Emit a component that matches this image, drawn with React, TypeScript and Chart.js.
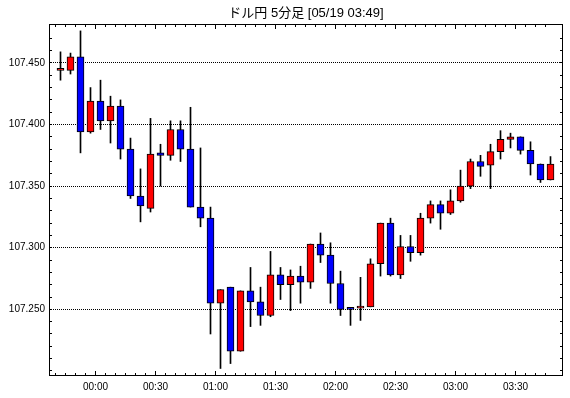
import React, { useEffect, useRef } from "react";
import { Chart, registerables } from "chart.js";

Chart.register(...registerables);

const TITLE = "ドル円 5分足 [05/19 03:49]";

// 5-minute candle start times
const TIMES = [
  "23:40", "23:45", "23:50", "23:55", "00:00", "00:05", "00:10", "00:15", "00:20", "00:25",
  "00:30", "00:35", "00:40", "00:45", "00:50", "00:55", "01:00", "01:05", "01:10", "01:15",
  "01:20", "01:25", "01:30", "01:35", "01:40", "01:45", "01:50", "01:55", "02:00", "02:05",
  "02:10", "02:15", "02:20", "02:25", "02:30", "02:35", "02:40", "02:45", "02:50", "02:55",
  "03:00", "03:05", "03:10", "03:15", "03:20", "03:25", "03:30", "03:35", "03:40", "03:45",
];

const OPEN = [
  107.444, 107.444, 107.455, 107.394, 107.419, 107.403, 107.415, 107.380, 107.342, 107.332,
  107.377, 107.375, 107.396, 107.380, 107.333, 107.324, 107.255, 107.268, 107.216, 107.265,
  107.256, 107.245, 107.278, 107.270, 107.277, 107.272, 107.303, 107.294, 107.271, 107.251,
  107.251, 107.252, 107.287, 107.320, 107.278, 107.301, 107.296, 107.324, 107.335, 107.328,
  107.338, 107.350, 107.370, 107.367, 107.378, 107.388, 107.390, 107.379, 107.368, 107.355,
];
const HIGH = [
  107.459, 107.458, 107.476, 107.430, 107.436, 107.423, 107.420, 107.389, 107.364, 107.405,
  107.384, 107.403, 107.403, 107.414, 107.381, 107.333, 107.266, 107.268, 107.265, 107.284,
  107.268, 107.297, 107.284, 107.282, 107.285, 107.303, 107.312, 107.304, 107.281, 107.251,
  107.276, 107.291, 107.320, 107.324, 107.310, 107.310, 107.328, 107.338, 107.338, 107.347,
  107.363, 107.372, 107.375, 107.384, 107.395, 107.393, 107.390, 107.386, 107.368, 107.374,
];
const LOW = [
  107.436, 107.441, 107.377, 107.393, 107.396, 107.385, 107.372, 107.340, 107.321, 107.329,
  107.350, 107.371, 107.370, 107.333, 107.317, 107.230, 107.202, 107.206, 107.216, 107.236,
  107.237, 107.244, 107.258, 107.249, 107.255, 107.267, 107.288, 107.255, 107.245, 107.237,
  107.241, 107.252, 107.277, 107.277, 107.275, 107.289, 107.294, 107.320, 107.315, 107.327,
  107.337, 107.348, 107.358, 107.348, 107.372, 107.381, 107.376, 107.359, 107.353, 107.355,
];
const CLOSE = [
  107.444, 107.455, 107.394, 107.419, 107.403, 107.415, 107.380, 107.342, 107.334, 107.376,
  107.375, 107.396, 107.380, 107.333, 107.324, 107.255, 107.266, 107.216, 107.265, 107.256,
  107.245, 107.278, 107.270, 107.277, 107.272, 107.303, 107.294, 107.271, 107.250, 107.250,
  107.252, 107.287, 107.320, 107.278, 107.301, 107.296, 107.324, 107.335, 107.328, 107.338,
  107.350, 107.370, 107.366, 107.378, 107.388, 107.390, 107.379, 107.368, 107.355, 107.368,
];

const Y_TICKS = [107.25, 107.3, 107.35, 107.4, 107.45];
const X_TICK_LABELS = ["00:00", "00:30", "01:00", "01:30", "02:00", "02:30", "03:00", "03:30"];

const Y_MIN = 107.1959;
const Y_MAX = 107.4816;
const X_MIN = -23.25;
const X_MAX = 233.75;

const UP = "#ff0000";
const DOWN = "#0000ff";
const FONT = "'Liberation Sans', Arial, sans-serif";

const toMinutes = (s: string) => {
  const [h, m] = s.split(":").map(Number);
  const v = h * 60 + m;
  return h >= 12 ? v - 1440 : v;
};

const framePlugin = {
  id: "frameTicks",
  afterDraw(chart: any) {
    const { ctx, chartArea: a, scales } = chart;
    const xs = scales.x;
    const ys = scales.y;
    ctx.save();
    ctx.strokeStyle = "#000";
    ctx.lineWidth = 1;
    ctx.beginPath();
    // x ticks every 5 minutes, major every 30
    for (let t = -20; t <= 225; t += 5) {
      const px = Math.floor(xs.getPixelForValue(t)) + 0.5;
      const len = t % 30 === 0 ? 5 : 3;
      ctx.moveTo(px, a.bottom);
      ctx.lineTo(px, a.bottom - len);
      ctx.moveTo(px, a.top);
      ctx.lineTo(px, a.top + len);
    }
    // y ticks every 0.01
    for (let i = 0; i <= 28; i++) {
      const v = 107.2 + i * 0.01;
      const py = Math.floor(ys.getPixelForValue(v)) + 0.5;
      if (py < a.top + 2 || py > a.bottom - 2) continue;
      ctx.moveTo(a.left, py);
      ctx.lineTo(a.left + 3, py);
      ctx.moveTo(a.right, py);
      ctx.lineTo(a.right - 3, py);
    }
    ctx.stroke();
    ctx.strokeRect(a.left + 0.5, a.top + 0.5, a.right - a.left - 1, a.bottom - a.top - 1);
    ctx.restore();
  },
};

export default function App() {
  const ref = useRef<HTMLCanvasElement | null>(null);

  useEffect(() => {
    document.body.style.margin = "0";
    const canvas = ref.current;
    if (!canvas) return;

    const centers = TIMES.map((t) => toMinutes(t) + 2.5);
    const bodies = centers.map((x, i) => ({ x, y: [OPEN[i], CLOSE[i]] }));
    const wicks = centers.map((x, i) => ({ x, y: [LOW[i], HIGH[i]] }));
    const colors = OPEN.map((o, i) => (CLOSE[i] >= o ? UP : DOWN));

    const chart = new Chart(canvas, {
      type: "bar",
      data: {
        datasets: [
          {
            label: "body",
            data: bodies as any,
            backgroundColor: colors,
            borderColor: "#000",
            borderWidth: 1,
            borderSkipped: false,
            barThickness: 7,
            minBarLength: 2,
            grouped: false,
            order: 0,
          } as any,
          {
            label: "wick",
            data: wicks as any,
            backgroundColor: "#000",
            borderWidth: 0,
            barThickness: 1,
            grouped: false,
            order: 1,
          } as any,
        ],
      },
      options: {
        animation: false,
        responsive: false,
        maintainAspectRatio: false,
        layout: { padding: { left: 0, right: 7, top: 0, bottom: 0 } },
        plugins: {
          legend: { display: false },
          tooltip: { enabled: false },
          title: {
            display: true,
            text: TITLE,
            fullSize: false,
            color: "#000",
            font: { family: "'Liberation Sans', 'Noto Sans CJK JP', sans-serif", size: 13, weight: "normal", lineHeight: 1 },
            padding: { top: 7, bottom: 4 },
          } as any,
        },
        scales: {
          x: {
            type: "linear",
            min: X_MIN,
            max: X_MAX,
            offset: false,
            grid: { display: false, drawTicks: false, offset: false },
            border: { display: false },
            afterBuildTicks: (scale: any) => {
              scale.ticks = X_TICK_LABELS.map((l) => ({ value: toMinutes(l) }));
            },
            afterFit: (scale: any) => {
              scale.height = 22;
            },
            ticks: {
              autoSkip: false,
              maxRotation: 0,
              padding: 5,
              color: "#000",
              font: { family: FONT, size: 10 },
              callback: (_v: any, i: number) => X_TICK_LABELS[i],
            },
          },
          y: {
            type: "linear",
            min: Y_MIN,
            max: Y_MAX,
            grid: { color: "#000", lineWidth: 1, drawTicks: false },
            border: { display: false, dash: [1, 1] },
            afterBuildTicks: (scale: any) => {
              scale.ticks = Y_TICKS.map((v) => ({ value: v }));
            },
            afterFit: (scale: any) => {
              scale.width = 49;
            },
            ticks: {
              padding: 4,
              color: "#000",
              font: { family: FONT, size: 10 },
              callback: (v: any) => Number(v).toFixed(3),
            },
          },
        },
      } as any,
      plugins: [framePlugin],
    });

    return () => chart.destroy();
  }, []);

  return (
    <div style={{ position: "fixed", left: 0, top: 0, width: 570, height: 398, background: "#fff" }}>
      <canvas ref={ref} width={570} height={398} style={{ display: "block", width: 570, height: 398 }} />
    </div>
  );
}
